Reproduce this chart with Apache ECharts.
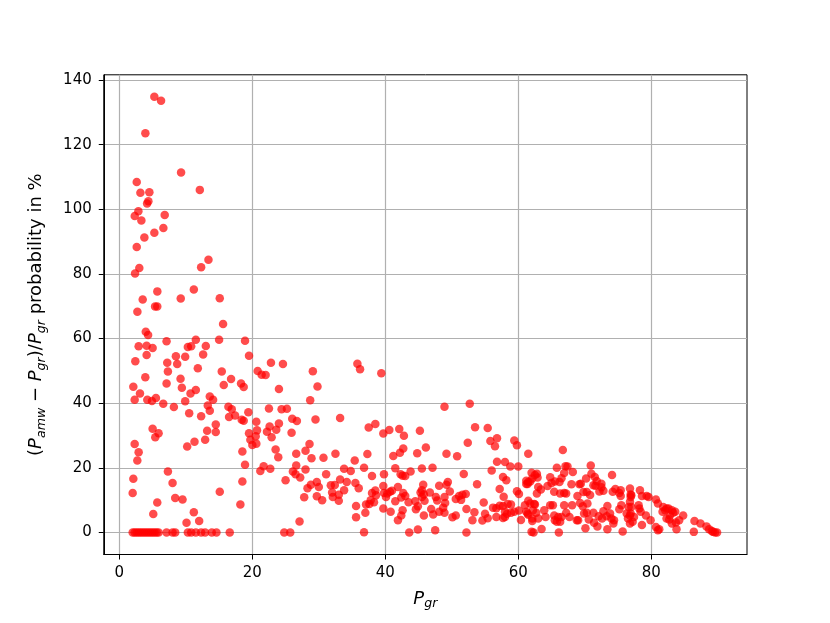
<!DOCTYPE html>
<html>
<head>
<meta charset="utf-8">
<script src="https://cdn.jsdelivr.net/npm/echarts@6/dist/echarts.min.js"></script>
<style>
html,body{margin:0;padding:0;background:#fff;}
#chart{width:830px;height:623px;}
</style>
</head>
<body>
<div id="chart"></div>
<script>
// P_gr values (x) and relative difference in % (y)
var pgr = [
5.26,6.27,3.91,9.28,2.61,12.1,3.16,4.51,4.36,4.17,2.86,2.31,3.31,6.82,6.62,5.26,3.76,2.61,13.4,12.3,3.0,2.36,5.71,11.2,3.51,9.23,15.1,5.37,5.7,2.71,15.6,3.97,4.32,7.1,11.5,15.0,18.9,
4.1,2.9,5.0,10.3,10.8,13.0,2.4,4.1,8.5,9.9,12.6,7.2,8.7,11.8,7.3,3.9,9.2,7.1,2.1,9.4,3.1,11.5,10.7,13.6,2.3,4.2,4.9,5.5,14.1,6.6,9.9,8.2,13.3,13.6,10.5,12.3,14.5,5.0,5.9,5.4,13.2,14.5,2.3,11.3,12.9,10.2,2.9,2.7,7.3,2.1,8.0,2.0,8.4,9.5,5.7,5.1,11.2,12.0,10.1,
2.0,2.3,2.6,2.9,3.2,3.5,3.8,4.1,4.4,4.7,5.0,5.3,5.6,5.9,7.1,8.0,8.4,10.3,10.8,11.5,12.3,12.9,13.9,14.6,16.6,24.8,25.7,
19.5,22.8,24.6,15.4,20.8,21.4,22.0,16.8,29.1,15.7,18.3,18.7,24.0,29.8,28.7,16.4,16.9,19.4,22.5,24.4,25.2,16.5,17.4,18.4,18.7,20.6,26.0,26.7,29.5,22.6,24.0,20.7,22.2,23.6,19.5,25.9,20.5,22.9,19.7,20.0,20.6,28.6,28.0,23.5,18.5,28.9,26.6,23.9,18.9,21.7,21.2,22.7,26.6,26.1,26.5,27.2,28.0,25.0,18.5,28.8,29.7,28.3,30.0,27.8,29.7,15.1,18.2,27.1,
35.8,36.2,39.4,33.2,37.5,38.5,39.7,40.6,42.1,42.8,45.2,30.7,32.5,35.4,37.3,41.2,42.2,42.7,44.8,33.8,34.8,36.8,31.1,38.0,39.8,41.5,42.3,42.6,43.0,43.8,45.5,31.8,32.4,33.2,33.8,34.2,32.0,32.1,33.0,33.0,35.5,36.0,30.5,38.0,38.5,38.6,37.8,38.3,37.1,37.6,39.7,39.8,40.1,40.3,40.7,41.0,41.9,42.7,43.0,42.4,41.5,43.5,44.5,44.6,44.9,45.3,45.5,35.6,37.0,35.6,39.7,40.8,42.6,42.4,41.9,36.8,43.6,44.9,
48.9,52.7,53.5,55.4,55.8,56.5,56.8,59.4,59.8,52.4,46.1,49.2,50.8,61.5,56.8,58.0,58.8,60.0,47.1,51.8,56.0,57.7,58.2,61.2,61.5,49.4,49.2,48.1,53.8,45.7,45.5,45.8,45.9,46.7,49.7,47.6,47.8,48.9,49.0,50.6,51.1,51.6,52.1,51.4,57.2,57.8,59.8,60.1,54.8,52.2,53.4,56.2,56.7,57.2,57.7,58.4,58.9,58.0,58.3,58.9,58.0,57.7,59.4,60.1,60.4,61.2,61.5,55.0,55.4,54.6,56.7,53.1,45.8,46.9,47.2,48.1,48.9,48.7,50.1,50.6,47.5,52.2,
66.7,65.8,67.1,67.4,70.9,74.1,62.0,62.5,62.8,62.9,62.1,61.4,61.2,61.8,63.0,62.8,63.4,64.4,64.8,65.5,65.0,65.4,66.2,66.5,66.9,66.3,66.9,67.2,68.2,68.0,69.2,69.4,70.2,70.3,69.8,68.9,71.0,71.5,71.8,71.3,71.6,72.5,72.5,72.2,72.8,70.8,74.2,74.6,75.2,75.4,75.4,76.9,76.9,
61.5,61.8,61.0,62.4,62.2,62.5,62.7,61.4,62.1,62.1,63.0,63.5,63.9,64.1,64.8,65.2,65.4,65.5,66.0,65.8,66.3,66.5,66.9,67.2,67.7,68.1,68.8,69.0,69.3,69.7,69.9,70.3,70.1,70.4,71.3,70.6,71.4,71.9,72.1,72.8,72.6,73.4,73.8,73.3,74.0,74.3,73.4,74.4,75.2,75.5,76.3,76.5,76.9,76.8,76.6,75.7,62.0,62.3,66.1,
76.8,77.0,76.8,77.0,76.8,77.2,77.4,78.3,78.6,79.3,79.6,78.1,78.2,78.4,79.2,79.9,78.6,80.7,81.0,81.7,81.8,82.1,82.3,82.6,83.1,83.3,83.6,82.8,82.3,82.7,83.1,83.7,84.2,84.8,83.8,80.7,81.0,81.2,86.5,87.4,86.4,88.3,88.7,89.1,89.6,89.9,89.3
];
var relDiff = [
134.8,133.6,123.5,111.4,108.4,106.0,105.1,105.3,102.5,101.8,99.4,97.9,96.5,98.2,94.2,92.7,91.3,88.3,84.4,82.1,81.8,80.1,74.6,75.2,72.1,72.4,72.5,69.9,69.9,68.3,64.5,62.1,61.1,59.2,59.6,59.6,59.3,
57.8,57.6,57.1,57.4,57.6,57.7,53.0,54.9,54.5,54.4,55.1,52.5,52.1,50.8,49.8,48.0,47.6,46.1,45.1,44.8,43.0,44.1,43.0,42.1,41.1,41.1,40.7,41.6,41.1,39.8,40.6,38.8,39.3,37.7,36.9,36.0,33.4,32.1,30.7,29.5,31.5,31.1,27.4,28.1,28.7,26.6,24.8,22.3,18.9,16.6,15.3,12.2,10.7,10.2,9.3,5.7,6.3,3.6,3.0,
0,0,0,0,0,0,0,0,0,0,0,0,0,0,0,0,0,0,0,0,0,0,0,0,0,0,0,
54.7,52.5,52.1,49.8,50.0,48.8,48.7,47.5,49.9,45.6,46.1,45.0,44.4,45.2,40.9,38.9,38.1,37.2,38.4,38.1,38.3,35.7,36.2,34.9,34.6,34.3,35.2,34.5,35.0,32.8,33.7,31.6,31.2,31.8,30.7,30.9,29.8,29.5,28.7,27.1,27.5,27.4,25.3,25.7,25.1,23.0,24.4,23.3,21.0,20.5,19.0,19.7,20.7,18.9,18.0,17.0,19.5,16.2,15.8,14.8,15.6,13.7,14.1,10.9,11.2,12.6,8.7,3.4,
52.2,50.5,49.3,35.4,32.5,33.6,30.6,31.7,32.0,29.9,31.5,23.1,24.4,22.3,24.3,23.7,24.7,26.0,24.5,19.7,19.0,20.0,18.0,17.5,18.0,19.9,18.0,17.6,17.5,18.9,19.8,14.6,14.7,16.4,13.1,15.6,12.4,11.0,11.7,9.8,15.3,13.7,10.0,12.2,13.0,11.5,10.0,9.4,8.7,8.8,14.4,12.2,11.0,12.1,12.6,12.9,14.1,12.2,11.3,10.8,9.7,9.4,9.7,7.2,8.1,12.4,11.0,8.2,6.1,4.7,7.4,6.4,6.9,5.3,3.8,0.1,0,0.9,
38.9,39.8,32.6,32.3,28.3,26.7,29.2,28.5,27.0,27.8,26.3,24.4,23.6,24.4,21.9,21.8,20.4,20.4,20.0,18.1,19.2,17.2,16.2,15.0,15.6,15.6,14.8,14.5,14.9,14.8,13.1,11.8,9.8,12.4,12.7,11.0,9.9,11.0,9.1,10.4,11.3,11.7,11.9,10.1,13.5,11.1,12.8,11.9,9.3,7.3,6.3,7.7,7.5,8.3,8.2,8.8,8.7,6.4,5.8,6.1,4.8,4.5,6.4,6.8,3.9,6.4,5.5,5.8,4.4,3.7,4.8,3.8,5.3,7.3,5.6,6.4,6.1,7.7,4.7,5.3,0.7,0,
25.5,20.0,20.5,20.4,20.7,17.8,18.5,17.8,18.2,17.0,16.7,15.0,16.0,15.8,14.1,12.1,13.3,14.4,17.1,15.8,15.3,12.6,15.6,16.8,18.4,12.1,12.2,12.1,18.7,14.9,14.9,15.1,16.7,12.5,12.5,11.3,18.2,17.2,15.9,14.6,14.5,15.1,14.0,12.7,12.9,11.6,12.6,13.5,12.2,13.1,11.3,11.8,11.0,
9.8,9.0,8.4,8.8,6.9,8.7,6.1,5.9,4.3,3.6,4.3,1.1,6.9,4.8,8.4,8.4,5.3,3.8,4.8,3.3,3.3,4.8,8.4,6.1,4.8,8.4,3.8,3.8,9.1,8.1,5.9,6.1,1.3,9.0,6.1,4.0,3.0,1.9,5.0,6.6,4.3,8.2,5.9,5.0,4.3,2.8,1.0,3.8,7.2,8.4,5.9,4.3,5.9,2.8,7.9,0.3,0.2,0,0,
13.6,11.5,9.5,7.9,5.3,3.3,4.8,13.1,11.3,11.3,11.0,8.4,7.4,6.4,5.3,3.8,2.3,10.2,9.0,6.4,7.9,6.9,7.4,7.4,6.9,6.1,6.4,5.3,4.3,4.0,2.8,3.1,3.8,5.3,1.0,1.7,0.7,1.0,3.6,2.8,0.2,1.9,1.0,0.5,0,0,0.2
];
var xTicks = [0, 20, 40, 60, 80];
var yTicks = [0, 20, 40, 60, 80, 100, 120, 140];

var data = [];
for (var i = 0; i < Math.min(pgr.length, relDiff.length); i++) data.push([pgr[i], relDiff[i]]);

var FONT = 'DejaVu Sans';
var richStyles = {
  n: {fontFamily: FONT, fontSize: 18, color: '#000'},
  i: {fontFamily: FONT, fontSize: 18, fontStyle: 'italic', color: '#000'},
  s: {fontFamily: FONT, fontSize: 12.6, fontStyle: 'italic', color: '#000', padding: [10, 0, 0, 0]}
};

var chart = echarts.init(document.getElementById('chart'), null, {renderer: 'canvas'});
chart.setOption({
  animation: false,
  backgroundColor: '#fff',
  grid: {left: 103.75, right: 83, top: 74.8, bottom: 68.5, show: true, borderColor: '#000', borderWidth: 1, backgroundColor: 'transparent'},
  xAxis: {
    type: 'value', min: -2.35, max: 94.4,
    name: '{i|P}{s|gr}', nameLocation: 'middle', nameGap: 33,
    nameTextStyle: {rich: richStyles},
    axisLine: {show: true, onZero: false, lineStyle: {color: '#000', width: 1}},
    axisTick: {show: true, length: 5, lineStyle: {color: '#000'}, customValues: xTicks},
    axisLabel: {fontFamily: FONT, fontSize: 15, color: '#000', margin: 11, customValues: xTicks},
    splitLine: {show: true, lineStyle: {color: '#b0b0b0', width: 1.2}}
  },
  yAxis: {
    type: 'value', min: -6.8, max: 141.6,
    name: '{n|(}{i|P}{s|amw}{n| − }{i|P}{s|gr}{n|)/}{i|P}{s|gr}{n| probability in %}',
    nameLocation: 'middle', nameGap: 56, nameRotate: 90,
    nameTextStyle: {rich: richStyles},
    axisLine: {show: true, onZero: false, lineStyle: {color: '#000', width: 1}},
    axisTick: {show: true, length: 5, lineStyle: {color: '#000'}, customValues: yTicks},
    axisLabel: {fontFamily: FONT, fontSize: 15, color: '#000', margin: 12, customValues: yTicks},
    splitLine: {show: true, lineStyle: {color: '#b0b0b0', width: 1.2}}
  },
  series: [{
    type: 'scatter',
    data: data,
    symbol: 'circle',
    symbolSize: 8.5,
    itemStyle: {color: '#ff0000', opacity: 0.7},
    emphasis: {disabled: true}
  }]
});
</script>
</body>
</html>
